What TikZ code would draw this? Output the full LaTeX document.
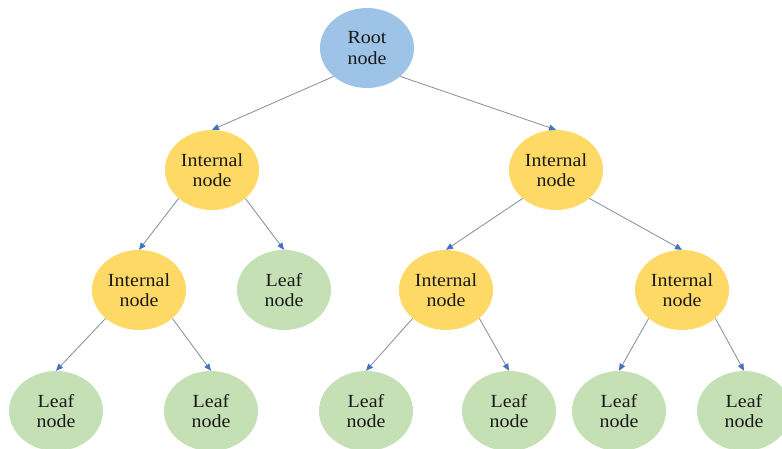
\documentclass[tikz,border=0pt]{standalone}
\usepackage{fontspec}
\setmainfont{Liberation Serif}[FakeStretch=1.08]
\usetikzlibrary{shapes.geometric,arrows.meta}
\definecolor{rootfill}{RGB}{157,195,230}
\definecolor{innerfill}{RGB}{255,217,102}
\definecolor{leaffill}{RGB}{197,224,180}
\definecolor{edgecol}{RGB}{128,140,165}
\definecolor{tipcol}{RGB}{68,114,196}
\tikzset{
  treenode/.style={ellipse, draw=none, minimum width=94pt, minimum height=80pt,
    inner sep=0pt, align=center, text=black!90,
    font=\fontsize{18.5}{20.5}\selectfont},
  rootnode/.style={treenode, fill=rootfill},
  innernode/.style={treenode, fill=innerfill},
  leafnode/.style={treenode, fill=leaffill},
  edge/.style={draw=edgecol, line width=0.8pt,
    -{Triangle[length=7pt,width=6pt,fill=tipcol,color=tipcol]}}
}
\begin{document}
\begin{tikzpicture}[x=1pt,y=-1pt]
  \useasboundingbox (0,0) rectangle (782,448);
  \begin{scope}
  \clip (0,0) rectangle (782,448);
  % levels of the tree
  \node[rootnode]  (root) at (367,48)  {Root\\node};
  \node[innernode] (a)    at (212,170) {Internal\\node};
  \node[innernode] (b)    at (556,170) {Internal\\node};
  \node[innernode] (aa)   at (139,290) {Internal\\node};
  \node[leafnode]  (ab)   at (284,290) {Leaf\\node};
  \node[innernode] (ba)   at (446,290) {Internal\\node};
  \node[innernode] (bb)   at (682,290) {Internal\\node};
  \node[leafnode]  (aaa)  at (56,411)  {Leaf\\node};
  \node[leafnode]  (aab)  at (211,411) {Leaf\\node};
  \node[leafnode]  (baa)  at (366,411) {Leaf\\node};
  \node[leafnode]  (bab)  at (509,411) {Leaf\\node};
  \node[leafnode]  (bba)  at (619,411) {Leaf\\node};
  \node[leafnode]  (bbb)  at (744,411) {Leaf\\node};
  % connectors
  \draw[edge] (root.south west) -- (a.north);
  \draw[edge] (root.south east) -- (b.north);
  \draw[edge] (a.south west) -- (aa.north);
  \draw[edge] (a.south east) -- (ab.north);
  \draw[edge] (b.south west) -- (ba.north);
  \draw[edge] (b.south east) -- (bb.north);
  \draw[edge] (aa.south west) -- (aaa.north);
  \draw[edge] (aa.south east) -- (aab.north);
  \draw[edge] (ba.south west) -- (baa.north);
  \draw[edge] (ba.south east) -- (bab.north);
  \draw[edge] (bb.south west) -- (bba.north);
  \draw[edge] (bb.south east) -- (bbb.north);
  \end{scope}
\end{tikzpicture}
\end{document}
